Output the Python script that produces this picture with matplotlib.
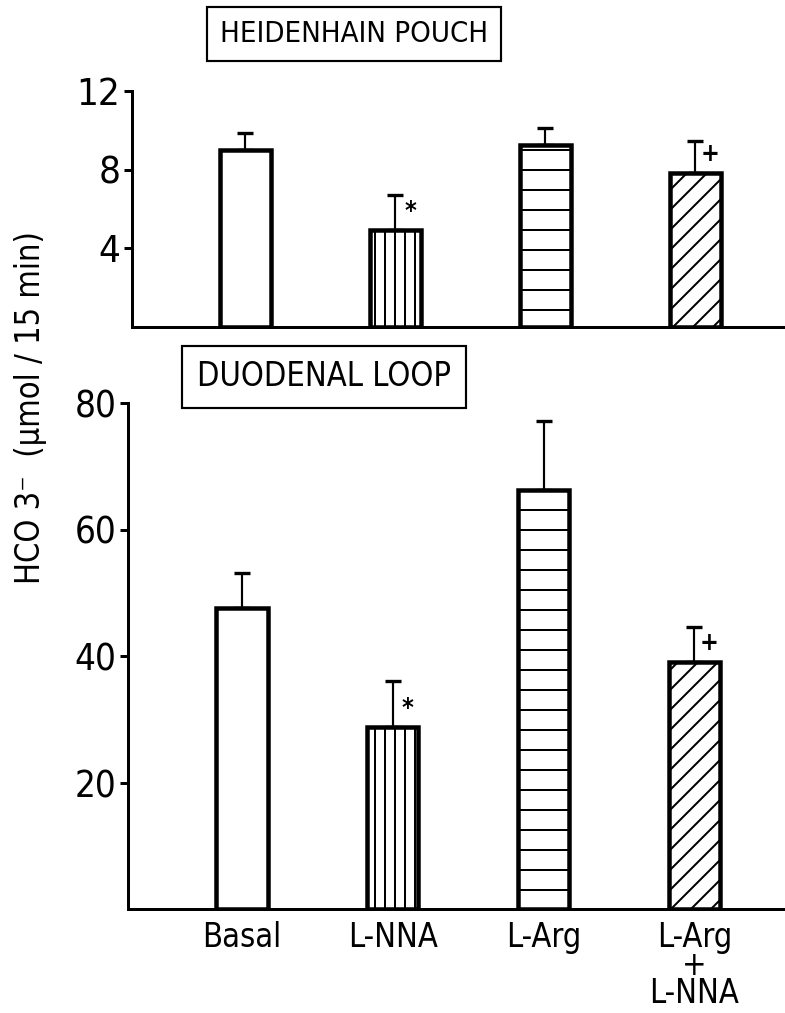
import matplotlib
matplotlib.use("Agg")
import matplotlib.pyplot as plt
from matplotlib import font_manager as fm
import numpy as np

# ---- data ----
categories = ['Basal', 'L-NNA', 'L-Arg', 'L-Arg\n+\nL-NNA']
pouch_mean = [9.0, 4.95, 9.25, 7.85]
pouch_sem = [0.88, 1.75, 0.85, 1.62]
loop_mean = [47.6, 28.8, 66.3, 39.1]
loop_sem = [5.6, 7.2, 10.8, 5.5]
hatches = ['', '||', '-', '//']
signif = ['', '*', '', '+']
pouch_ticks = [4, 8, 12]
loop_ticks = [20, 40, 60, 80]

# ---- pick a condensed font if one is installed ----
cond = None
for f in fm.fontManager.ttflist:
    nm = f.name.lower()
    st = str(f.stretch).lower()
    if f.style != 'normal':
        continue
    if str(f.weight) not in ('400', 'normal', 'regular'):
        continue
    if 'condensed' in st or 'narrow' in nm or 'condensed' in nm:
        cond = f
        break

if cond is not None:
    FAM = [cond.name, 'DejaVu Sans']
    STRETCH = cond.stretch
    SCALE = 1.0
else:
    FAM = ['Roboto', 'DejaVu Sans']
    STRETCH = 'normal'
    SCALE = 0.85

plt.rcParams['font.family'] = FAM
plt.rcParams['font.stretch'] = STRETCH
plt.rcParams['hatch.linewidth'] = 1.2
plt.rcParams['hatch.color'] = 'black'

DPI = 120
W, H = 785, 1013
fig = plt.figure(figsize=(W / DPI, H / DPI), dpi=DPI)

ax1 = fig.add_axes([132 / W, (H - 327) / H, (W - 132) / W, 236 / H])
ax2 = fig.add_axes([128 / W, (H - 909) / H, (W - 128) / W, 506 / H])

x = np.arange(len(categories))
XLIM = (-0.755, 3.6)
BW = 0.34


def draw(ax, means, sems, ylim, ticks, tickfs):
    ax.bar(x, means, width=BW, color='white', edgecolor='black',
           linewidth=2.7, hatch=hatches, zorder=3)
    ax.errorbar(x, means, yerr=[np.zeros(len(sems)), sems], fmt='none',
                ecolor='black', elinewidth=1.3, capsize=4.8, capthick=2.0,
                zorder=2)
    for xi, m, s in zip(x, means, signif):
        if s:
            ax.annotate(s, xy=(xi, m), xytext=(9, 4), textcoords='offset points',
                        ha='center', va='bottom', fontsize=15,
                        fontweight='bold', family=['DejaVu Sans'])
    ax.set_xlim(*XLIM)
    ax.set_ylim(*ylim)
    ax.set_yticks(ticks)
    ax.set_yticklabels([str(t) for t in ticks], fontsize=tickfs * SCALE)
    for sp in ['top', 'right']:
        ax.spines[sp].set_visible(False)
    ax.spines['left'].set_linewidth(1.8)
    ax.spines['bottom'].set_linewidth(1.8)
    ax.tick_params(axis='y', length=5, width=1.8, pad=2, direction='out')
    ax.tick_params(axis='x', length=0)
    ax.patch.set_alpha(0)


draw(ax1, pouch_mean, pouch_sem, (0, 12), pouch_ticks, 23)
ax1.set_xticks([])

draw(ax2, loop_mean, loop_sem, (0, 80), loop_ticks, 22)
ax2.set_xticks(x)
ax2.set_xticklabels(categories, fontsize=19.5 * SCALE, linespacing=0.82,
                    va='top')
ax2.tick_params(axis='x', pad=7)

# boxed panel titles
box = dict(boxstyle='square,pad=0.45', facecolor='white', edgecolor='black',
           linewidth=1.3)
fig.text(354 / W, 1 - 34 / H, 'HEIDENHAIN POUCH', ha='center', va='center',
         fontsize=17.5 * SCALE, bbox=box)
fig.text(324 / W, 1 - 377 / H, 'DUODENAL LOOP', ha='center', va='center',
         fontsize=19.5 * SCALE, bbox=box)

# y-axis label
fig.text(31 / W, 1 - 408 / H, 'HCO 3\u207b  (\u00b5mol / 15 min)',
         rotation=90, ha='center', va='center', fontsize=19.5 * SCALE)

fig.savefig('out.png', dpi=DPI)
